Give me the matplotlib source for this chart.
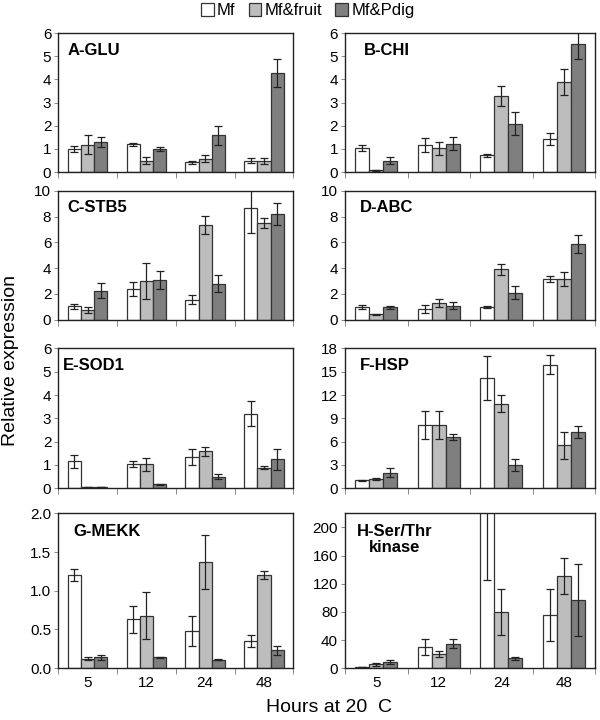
import matplotlib
matplotlib.use("Agg")
import matplotlib.pyplot as plt
from matplotlib.patches import Patch
import numpy as np

plt.rcParams['font.family'] = ['Liberation Sans', 'DejaVu Sans']

hours = ['5', '12', '24', '48']
series = ['Mf', 'Mf&fruit', 'Mf&Pdig']
colors = ['#ffffff', '#bdbdbd', '#7f7f7f']

# values and error bars per series (Mf, Mf&fruit, Mf&Pdig) for each gene
glu_val = [[1.0, 1.2, 0.42, 0.5], [1.18, 0.48, 0.58, 0.48], [1.3, 1.0, 1.58, 4.28]]
glu_err = [[0.12, 0.07, 0.07, 0.1], [0.42, 0.15, 0.15, 0.12], [0.2, 0.08, 0.4, 0.62]]

chi_val = [[1.03, 1.15, 0.72, 1.42], [0.07, 1.02, 3.28, 3.88], [0.48, 1.22, 2.08, 5.55]]
chi_err = [[0.12, 0.3, 0.08, 0.25], [0.03, 0.3, 0.43, 0.55], [0.15, 0.28, 0.5, 0.65]]

stb_val = [[1.05, 2.4, 1.55, 8.7], [0.75, 3.0, 7.35, 7.5], [2.25, 3.05, 2.8, 8.2]]
stb_err = [[0.2, 0.55, 0.35, 2.0], [0.25, 1.4, 0.7, 0.4], [0.6, 0.7, 0.65, 0.85]]

abc_val = [[1.0, 0.85, 1.0, 3.15], [0.42, 1.3, 3.9, 3.15], [0.95, 1.1, 2.08, 5.9]]
abc_err = [[0.15, 0.3, 0.08, 0.25], [0.03, 0.3, 0.45, 0.55], [0.15, 0.3, 0.5, 0.7]]

sod_val = [[1.15, 1.03, 1.35, 3.2], [0.03, 1.03, 1.58, 0.88], [0.03, 0.17, 0.5, 1.25]]
sod_err = [[0.28, 0.13, 0.35, 0.55], [0.0, 0.28, 0.2, 0.07], [0.0, 0.02, 0.1, 0.45]]

hsp_val = [[1.0, 8.1, 14.2, 15.9], [1.2, 8.1, 10.9, 5.5], [2.0, 6.6, 3.0, 7.25]]
hsp_err = [[0.05, 1.8, 2.8, 1.2], [0.15, 1.8, 1.1, 1.7], [0.6, 0.35, 0.8, 0.75]]

mekk_val = [[1.2, 0.63, 0.48, 0.35], [0.12, 0.68, 1.37, 1.2], [0.14, 0.14, 0.11, 0.23]]
mekk_err = [[0.08, 0.17, 0.2, 0.08], [0.02, 0.3, 0.35, 0.05], [0.03, 0.01, 0.01, 0.06]]

kin_val = [[1.5, 30, 230, 76], [5.5, 20, 80, 131], [8.5, 35, 14, 97]]
kin_err = [[0.5, 11, 104, 37], [2, 4, 33, 26], [2.5, 7, 2, 51]]

# name, y max, y step, last labelled tick, values, errors, tick format
panels = [
    ('A-GLU', 6, 1, 6, glu_val, glu_err, '%d'),
    ('B-CHI', 6, 1, 6, chi_val, chi_err, '%d'),
    ('C-STB5', 10, 2, 10, stb_val, stb_err, '%d'),
    ('D-ABC', 10, 2, 10, abc_val, abc_err, '%d'),
    ('E-SOD1', 6, 1, 6, sod_val, sod_err, '%d'),
    ('F-HSP', 18, 3, 18, hsp_val, hsp_err, '%d'),
    ('G-MEKK', 2.0, 0.5, 2.0, mekk_val, mekk_err, '%.1f'),
    ('H-Ser/Thr\nkinase', 220, 40, 200, kin_val, kin_err, '%d'),
]

# axes rectangles in figure fraction
col_x = [(0.097, 0.392), (0.575, 0.417)]
row_y = [(0.761, 0.193), (0.556, 0.179), (0.322, 0.194), (0.072, 0.215)]
title_x = [0.04, 0.075, 0.04, 0.06, 0.02, 0.06, 0.065, 0.2]

fig = plt.figure(figsize=(6, 7.2), dpi=100)
x = np.arange(len(hours))
w = 0.225

for i, (name, ymax, ystep, ylast, vals, errs, fmt) in enumerate(panels):
    r, c = divmod(i, 2)
    ax = fig.add_axes([col_x[c][0], row_y[r][0], col_x[c][1], row_y[r][1]])
    for k in range(3):
        ax.bar(x + (k - 1) * w, vals[k], w, color=colors[k],
               edgecolor='#333333', linewidth=0.9,
               yerr=errs[k], capsize=3,
               error_kw=dict(ecolor='#222222', elinewidth=0.9, capthick=0.9))
    ax.set_xlim(-0.5, 3.5)
    ax.set_ylim(0, ymax)
    ticks = np.arange(0, ylast + ystep / 2, ystep)
    ax.set_yticks(ticks)
    ax.set_yticklabels([fmt % t for t in ticks], fontsize=11)
    ax.tick_params(axis='y', length=3, width=0.6, color='#777777', pad=2)
    ax.set_xticks(np.arange(-0.5, 3.6, 1))
    ax.set_xticklabels([])
    ax.tick_params(axis='x', length=4, width=0.6, color='#777777')
    ax.set_xticks(x, minor=True)
    if r == 3:
        ax.set_xticklabels(hours, minor=True, fontsize=11)
    ax.tick_params(axis='x', which='minor', length=0, pad=6)
    for s in ax.spines.values():
        s.set_linewidth(1.0)
        s.set_color('#222222')
    ha = 'center' if '\n' in name else 'left'
    ax.text(title_x[i], 0.93, name, transform=ax.transAxes, ha=ha, va='top',
            multialignment='center', fontsize=12, fontweight='bold',
            linespacing=1.05)

fig.text(0.018, 0.5, 'Relative expression', rotation=90, ha='center',
         va='center', fontsize=14)
fig.text(0.548, 0.017, 'Hours at 20  C', ha='center', va='center', fontsize=14)

handles = [Patch(facecolor=colors[k], edgecolor='#333333', linewidth=0.9)
           for k in range(3)]
fig.legend(handles, series, loc='center', bbox_to_anchor=(0.513, 0.985),
           ncol=3, frameon=False, fontsize=12, handlelength=0.75,
           handleheight=0.75, handletextpad=0.2, columnspacing=0.8)

fig.savefig('out.png', dpi=100)
